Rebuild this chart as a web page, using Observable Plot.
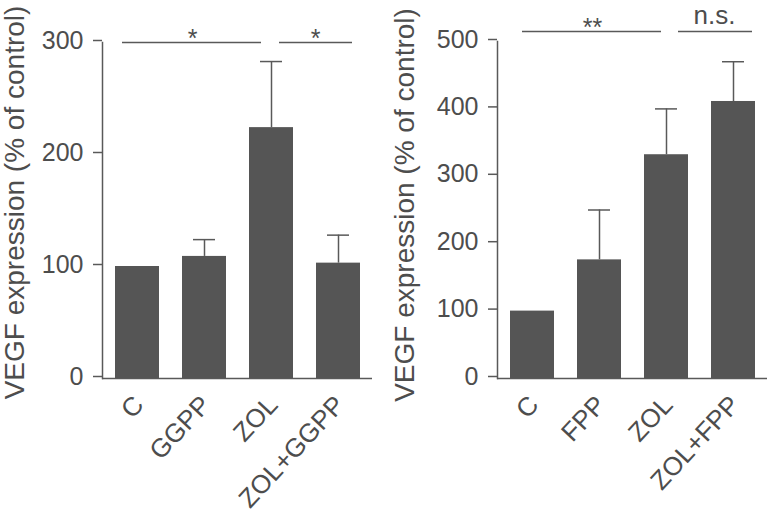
<!DOCTYPE html>
<html>
<head>
<meta charset="utf-8">
<script src="https://cdn.jsdelivr.net/npm/d3@7"></script>
<script src="https://cdn.jsdelivr.net/npm/@observablehq/plot@0.6"></script>
<style>
  html, body { margin: 0; padding: 0; background: #fff; }
  #wrap { display: flex; width: 767px; height: 521px; }
</style>
</head>
<body>
<div id="wrap"></div>
<script>
// ---- Data ----
const yLabel = "VEGF expression (% of control)";

const leftGroups = ["C", "GGPP", "ZOL", "ZOL+GGPP"];
const leftMeans  = [100, 109, 224, 103];
const leftUpper  = [100, 124, 283, 128];
const leftTicks  = [0, 100, 200, 300];

const rightGroups = ["C", "FPP", "ZOL", "ZOL+FPP"];
const rightMeans  = [100, 176, 332, 411];
const rightUpper  = [100, 250, 400, 470];
const rightTicks  = [0, 100, 200, 300, 400, 500];

const leftSig  = [{from: "C", to: "ZOL", level: 300, label: "*"},
                  {from: "ZOL", to: "ZOL+GGPP", level: 300, label: "*"}];
const rightSig = [{from: "C", to: "ZOL", level: 515, label: "**"},
                  {from: "ZOL", to: "ZOL+FPP", level: 515, label: "n.s."}];

const BAR = "#555555", INK = "#4d4d4d", LINE = "#595959";

function rows(groups, means, upper) {
  return groups.map((g, i) => ({group: g, value: means[i], upper: upper[i]}));
}

function panel({groups, means, upper, ticks, sig, width, marginLeft, marginRight, marginTop,
                sigInsets, sigDx, sigDy, sigSize, labelDx, labelDy}) {
  const data = rows(groups, means, upper);
  const withErr = data.filter(d => d.upper > d.value);
  const marks = [
    Plot.barY(data, {x: "group", y: "value", fill: BAR}),
    Plot.ruleX(withErr, {x: "group", y1: "value", y2: "upper", stroke: LINE, strokeWidth: 1.5}),
    Plot.tickY(withErr, {x: "group", y: "upper", stroke: LINE, strokeWidth: 1.5, insetLeft: 11, insetRight: 11}),
    Plot.ruleY([0], {stroke: LINE, strokeWidth: 1.5}),
    Plot.frame({anchor: "left", stroke: LINE, strokeWidth: 1.5}),
    Plot.axisY({ticks, tickSize: 9, tickPadding: 10, strokeWidth: 1.5, stroke: LINE, fill: INK,
                fontSize: 25, dy: -2, label: null}),
    Plot.axisX({tickSize: 0, tickPadding: 15, tickRotate: -47, textAnchor: "end", lineAnchor: "top",
                fontSize: 26, fill: INK, dx: -6, label: null}),
    Plot.text([yLabel], {frameAnchor: "left", textAnchor: "middle", rotate: -90, fontSize: 28, fill: INK,
                         dx: labelDx, dy: labelDy})
  ];
  sig.forEach((s, i) => {
    marks.push(Plot.ruleY([s], {x1: "from", x2: "to", y: "level", stroke: LINE, strokeWidth: 1.5,
      insetLeft: sigInsets[i][0], insetRight: sigInsets[i][1]}));
    marks.push(Plot.text([s], {x: "from", y: "level", text: "label", fill: INK,
      fontSize: sigSize[i], dx: sigDx[i], dy: sigDy[i]}));
  });
  return Plot.plot({
    width, height: 521,
    marginLeft, marginRight, marginTop, marginBottom: 143,
    style: {fontFamily: "'Liberation Sans', Arial, sans-serif", color: INK, background: "transparent"},
    x: {type: "band", domain: groups, paddingInner: 0.35, paddingOuter: 0.175},
    y: {domain: [0, ticks[ticks.length - 1]]},
    marks
  });
}

const wrap = document.getElementById("wrap");
wrap.appendChild(panel({
  groups: leftGroups, means: leftMeans, upper: leftUpper, ticks: leftTicks, sig: leftSig,
  width: 385, marginLeft: 102, marginRight: 13, marginTop: 42,
  sigInsets: [[7, 32], [30, 8]], sigDx: [55, 44], sigDy: [-3.5, -3.5], sigSize: [25, 25],
  labelDx: -87, labelDy: -8
}));
wrap.appendChild(panel({
  groups: rightGroups, means: rightMeans, upper: rightUpper, ticks: rightTicks, sig: rightSig,
  width: 382, marginLeft: 112, marginRight: 0, marginTop: 41,
  sigInsets: [[12, 27], [34, 3]], sigDx: [60, 48], sigDy: [-3, -16], sigSize: [25, 26],
  labelDx: -92, labelDy: -5
}));
</script>
</body>
</html>
